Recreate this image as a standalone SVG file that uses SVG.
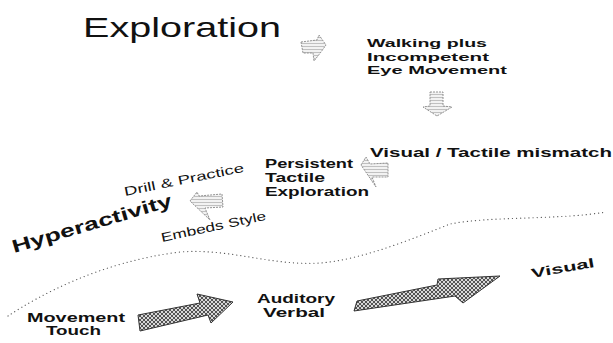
<svg xmlns="http://www.w3.org/2000/svg" width="613" height="343" viewBox="0 0 613 343">
<defs>
<pattern id="hatchDark" width="4" height="4" patternUnits="userSpaceOnUse">
<rect width="4" height="4" fill="#d8d8d8"/>
<path d="M0,4 L4,0 M0,0 L4,4" stroke="#444" stroke-width="0.9"/>
</pattern>
<pattern id="hatchLight" width="3" height="3" patternUnits="userSpaceOnUse">
<rect width="3" height="3" fill="#f2f2f2"/>
<path d="M0,1.5 L3,1.5" stroke="#aaa" stroke-width="0.7"/>
</pattern>
<style>
.t{font-family:"Liberation Sans",Arial,sans-serif;fill:#111;}
.b{font-weight:bold;}
.big{stroke:#333;stroke-width:1;fill:url(#hatchDark);}
.small{stroke:#888;stroke-width:0.9;stroke-dasharray:2 1;fill:url(#hatchLight);}
.dots{fill:none;stroke:#555;stroke-width:1.2;stroke-linecap:round;stroke-dasharray:0.1 4;}
</style>
</defs>
<rect width="613" height="343" fill="#fff"/>

<g id="exploration">
<text class="t" x="83" y="37" font-size="28" fill="#222" textLength="198" lengthAdjust="spacingAndGlyphs">Exploration</text>
</g>

<g id="walking">
<text class="t b" x="367" y="47" font-size="11.5" textLength="120" lengthAdjust="spacingAndGlyphs">Walking plus</text>
<text class="t b" x="367" y="60.5" font-size="11.5" textLength="122" lengthAdjust="spacingAndGlyphs">Incompetent</text>
<text class="t b" x="367" y="74" font-size="11.5" textLength="140" lengthAdjust="spacingAndGlyphs">Eye Movement</text>
</g>

<g id="mismatch">
<text class="t b" x="370" y="157" font-size="12.5" textLength="242" lengthAdjust="spacingAndGlyphs">Visual / Tactile mismatch</text>
</g>

<g id="persistent">
<text class="t b" x="265" y="168" font-size="12" textLength="88" lengthAdjust="spacingAndGlyphs">Persistent</text>
<text class="t b" x="265" y="182" font-size="12" textLength="60" lengthAdjust="spacingAndGlyphs">Tactile</text>
<text class="t b" x="265" y="196" font-size="12" textLength="104" lengthAdjust="spacingAndGlyphs">Exploration</text>
</g>

<g id="hyperactivity">
<text class="t b" x="0" y="0" font-size="18" textLength="166" lengthAdjust="spacingAndGlyphs" transform="translate(14,253) rotate(-16.5)">Hyperactivity</text>
<text class="t" x="0" y="0" font-size="12.5" textLength="122" lengthAdjust="spacingAndGlyphs" transform="translate(125,196) rotate(-11.5)">Drill &amp; Practice</text>
<text class="t" x="0" y="0" font-size="12.5" textLength="107" lengthAdjust="spacingAndGlyphs" transform="translate(162,242) rotate(-12)">Embeds Style</text>
</g>

<g id="movement">
<text class="t b" x="27" y="322" font-size="12" textLength="98" lengthAdjust="spacingAndGlyphs">Movement</text>
<text class="t b" x="46" y="335" font-size="12" textLength="55" lengthAdjust="spacingAndGlyphs">Touch</text>
</g>

<g id="auditory">
<text class="t b" x="257" y="303" font-size="12" textLength="78" lengthAdjust="spacingAndGlyphs">Auditory</text>
<text class="t b" x="263" y="317" font-size="12" textLength="62" lengthAdjust="spacingAndGlyphs">Verbal</text>
</g>

<g id="visual">
<text class="t b" x="0" y="0" font-size="13" textLength="64" lengthAdjust="spacingAndGlyphs" transform="translate(532,278) rotate(-10)">Visual</text>
</g>

<g id="connectors">
<path class="dots" d="M8,316 C40,295 100,262 180,252 C230,248 270,266 320,263 C360,260 410,240 450,224 C490,216 560,220 606,212"/>
<path class="small" d="M301,42 L317,40 L319,35 L326,45 L321,52 L314,61 L313,53 L303,53 Z"/>
<path class="small" d="M430,92 L443,92 L443,106 L452,107 L437,116 L423,107 L430,106 Z"/>
<path class="small" d="M361,165 L366,157 L370,164 L388,163 L388,177 L372,177 L376,187 Z"/>
<path class="small" d="M190,201 L197,192 L199,196 L222,194 L223,207 L205,208 L210,220 Z"/>
<path class="big" d="M138,315 L200,303 L197,294 L233,302 L211,323 L208,315 L140,331 Z"/>
<path class="big" d="M354,311 L357,301 L437,285 L438,279 L500,276 L463,303 L455,296 Z"/>
</g>
</svg>
